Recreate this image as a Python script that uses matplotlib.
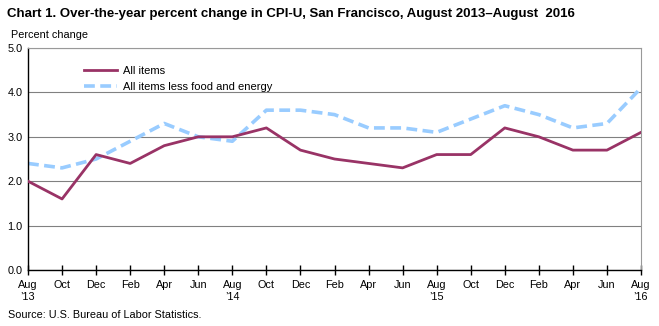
import matplotlib
matplotlib.use("Agg")
import matplotlib.pyplot as plt

plt.rcParams['font.family'] = ['Liberation Sans', 'DejaVu Sans']

# bimonthly, Aug 2013 - Aug 2016
months = ['Aug\n\u201913', 'Oct', 'Dec', 'Feb', 'Apr', 'Jun',
          'Aug\n\u201914', 'Oct', 'Dec', 'Feb', 'Apr', 'Jun',
          'Aug\n\u201915', 'Oct', 'Dec', 'Feb', 'Apr', 'Jun',
          'Aug\n\u201916']
all_items = [2.0, 1.6, 2.6, 2.4, 2.8, 3.0, 3.0, 3.2, 2.7, 2.5, 2.4, 2.3,
             2.6, 2.6, 3.2, 3.0, 2.7, 2.7, 3.1]
core = [2.4, 2.3, 2.5, 2.9, 3.3, 3.0, 2.9, 3.6, 3.6, 3.5, 3.2, 3.2,
        3.1, 3.4, 3.7, 3.5, 3.2, 3.3, 4.1]

fig = plt.figure(figsize=(6.59, 3.26), dpi=100)
ax = fig.add_axes([28/659, 56/326, 613/659, 222/326])

x = range(len(months))
ax.plot(x, all_items, color='#993366', lw=2, label='All items', zorder=3)
ax.plot(x, core, color='#99CCFF', lw=2.6, ls=(0, (3, 1.5)),
        label='All items less food and energy', zorder=2)

ax.set_xlim(0, len(months) - 1)
ax.set_ylim(0, 5)
ax.set_yticks([0, 1, 2, 3, 4, 5])
ax.set_yticklabels(['%.1f' % v for v in [0, 1, 2, 3, 4, 5]], fontsize=7.8)
ax.set_xticks(list(x))
ax.set_xticklabels(months, fontsize=7.8, linespacing=1.25)
ax.tick_params(axis='y', length=0, pad=4)
ax.tick_params(axis='x', direction='inout', length=7, width=1, pad=4)
ax.grid(axis='y', color='#808080', lw=0.8)
ax.set_axisbelow(True)

for s in ['top', 'right']:
    ax.spines[s].set_color('#999999')
for s in ['left', 'bottom']:
    ax.spines[s].set_color('black')
    ax.spines[s].set_linewidth(1)

ax.legend(loc='upper left', bbox_to_anchor=(0.075, 0.965), frameon=False,
          fontsize=8, handlelength=3, handletextpad=0.5, labelspacing=0.55)

fig.text(7/659, 1 - 14/326, 'Chart 1. Over-the-year percent change in CPI-U, San Francisco, '
         'August 2013\u2013August  2016', fontsize=9.5, fontweight='bold', va='center')
fig.text(11/659, 1 - 35/326, 'Percent change', fontsize=7.8, va='center')
fig.text(8/659, 1 - 315/326, 'Source: U.S. Bureau of Labor Statistics.', fontsize=7.8, va='center')

fig.savefig('out.png', dpi=100, facecolor='white')
